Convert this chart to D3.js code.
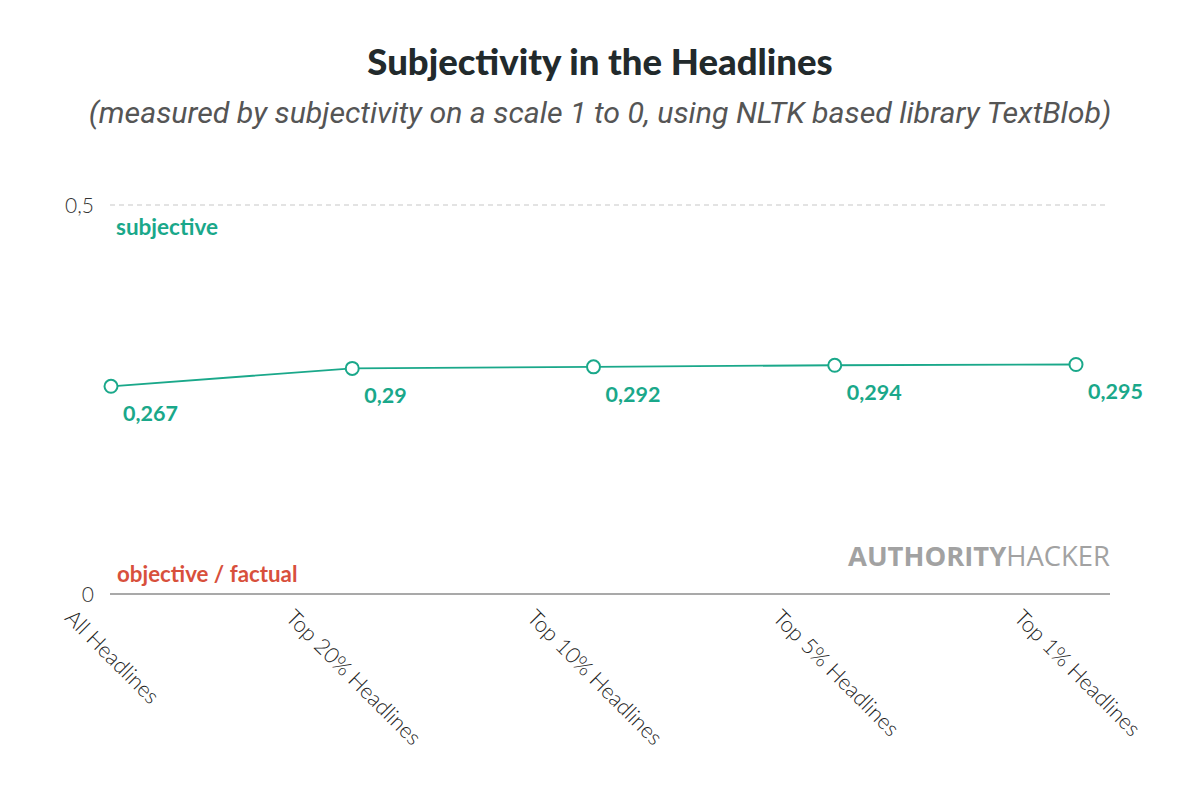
<!DOCTYPE html>
<html><head><meta charset="utf-8">
<script src="https://cdn.jsdelivr.net/npm/d3@7"></script>
<style>body{margin:0;background:#fff}svg{display:block}</style>
</head><body><svg id="c" width="1200" height="786"></svg>
<script>
const categories = ["All Headlines","Top 20% Headlines","Top 10% Headlines","Top 5% Headlines","Top 1% Headlines"];
const values = [0.267, 0.29, 0.292, 0.294, 0.295];
const valueLabels = ["0,267","0,29","0,292","0,294","0,295"];
const yTicks = [0, 0.5];
const yTickLabels = ["0","0,5"];

const svg = d3.select("#c");
const teal = "#1aa88a";
const x = d3.scalePoint().domain(categories).range([111, 1076]);
const y = d3.scaleLinear().domain([0, 0.5]).range([594, 205]);

svg.append("text").attr("x",600).attr("y",75).attr("text-anchor","middle")
  .style("font-family","Lato").style("font-weight",900).style("font-size","36.5px").attr("fill","#222a2c")
  .text("Subjectivity in the Headlines");
svg.append("text").attr("x",600).attr("y",123).attr("text-anchor","middle")
  .style("font-family","Roboto").style("font-style","italic").style("font-size","30.3px").attr("fill","#555")
  .text("(measured by subjectivity on a scale 1 to 0, using NLTK based library TextBlob)");

// gridline at 0.5
svg.append("line").attr("x1",110).attr("x2",1106).attr("y1",y(0.5)).attr("y2",y(0.5))
  .attr("stroke","#c8c8c8").attr("stroke-width",1.2).attr("stroke-dasharray","5,4");
// axis baseline
svg.append("line").attr("x1",110).attr("x2",1110).attr("y1",y(0)).attr("y2",y(0))
  .attr("stroke","#555").attr("stroke-width",1.2);

// y tick labels
svg.selectAll(".yt").data(yTicks).enter().append("text")
  .attr("x",94).attr("y",d=>y(d)+8).attr("text-anchor","end")
  .style("font-family","Lato").style("font-weight",300).style("font-size","21px").attr("fill","#333")
  .text((d,i)=>yTickLabels[i]);

svg.append("text").attr("x",116).attr("y",235)
  .style("font-family","Lato").style("font-weight",700).style("font-size","22.5px").attr("fill",teal)
  .text("subjective");
svg.append("text").attr("x",117).attr("y",582)
  .style("font-family","Lato").style("font-weight",700).style("font-size","22.3px").attr("fill","#d8503c")
  .text("objective / factual");

// logo
const logo = svg.append("text").attr("x",1110).attr("y",566).attr("text-anchor","end")
  .style("font-family","Open Sans").style("font-size","27.4px").attr("fill","#a2a2a2");
logo.append("tspan").style("font-weight",700).text("AUTHORITY");
logo.append("tspan").style("font-weight",400).text("HACKER");

// line
const line = d3.line().x((d,i)=>x(categories[i])).y(d=>y(d));
svg.append("path").datum(values).attr("d",line).attr("fill","none").attr("stroke",teal).attr("stroke-width",1.8);
svg.selectAll(".pt").data(values).enter().append("circle")
  .attr("cx",(d,i)=>x(categories[i])).attr("cy",d=>y(d)).attr("r",6.5)
  .attr("fill","#fff").attr("stroke",teal).attr("stroke-width",2);
svg.selectAll(".vl").data(values).enter().append("text")
  .attr("x",(d,i)=>x(categories[i])+12).attr("y",d=>y(d)+35)
  .style("font-family","Lato").style("font-weight",700).style("font-size","21.5px").attr("fill",teal)
  .text((d,i)=>valueLabels[i]);

// x labels rotated 45
svg.selectAll(".xl").data(categories).enter().append("text")
  .style("font-family","Lato").style("font-weight",300).style("font-size","21.8px").attr("fill","#1e1e1e")
  .text(d=>d)
  .each(function(d){
    const L = this.getComputedTextLength();
    const w = L*Math.SQRT1_2;
    const sx = x(d) - w/2 - 4, sy = 619;
    d3.select(this).attr("transform",`translate(${sx},${sy}) rotate(45)`);
  });
</script></body></html>
